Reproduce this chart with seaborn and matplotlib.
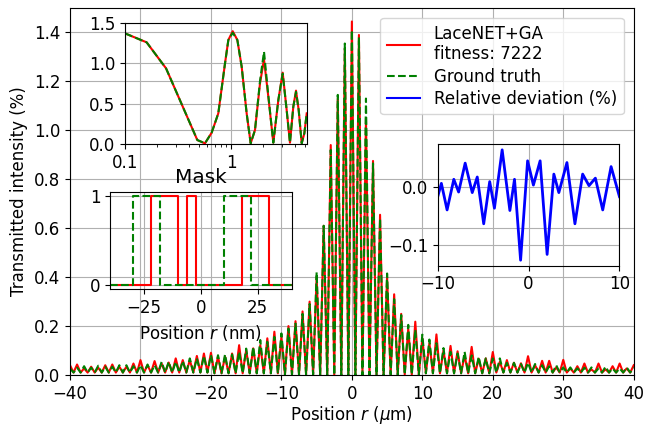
import numpy as np
import pandas as pd
import matplotlib
matplotlib.use("Agg")
import matplotlib.pyplot as plt
import seaborn as sns
from matplotlib.lines import Line2D

# ---------------- data ----------------
# main curve: peaks at integer r, troughs at half-integers (micrometres)
peak_r = np.arange(-40, 41, 1.0)
red_peaks = [0.040, 0.043, 0.027, 0.034, 0.030, 0.040, 0.043, 0.034, 0.034, 0.047,
             0.061, 0.040, 0.057, 0.047, 0.051, 0.068, 0.061, 0.061, 0.078, 0.088,
             0.091, 0.075, 0.075, 0.088, 0.122, 0.102, 0.109, 0.122, 0.150, 0.177,
             0.156, 0.200, 0.220, 0.260, 0.300, 0.400, 0.610, 0.940, 1.130, 1.335,
             1.445,
             1.390, 1.050, 0.875, 0.655, 0.400, 0.330, 0.250, 0.190, 0.218, 0.150,
             0.130, 0.166, 0.100, 0.119, 0.097, 0.080, 0.115, 0.067, 0.068, 0.094,
             0.054, 0.061, 0.050, 0.048, 0.077, 0.040, 0.058, 0.058, 0.031, 0.062,
             0.027, 0.036, 0.047, 0.023, 0.047, 0.023, 0.036, 0.047, 0.027, 0.040]
green_peaks = [0.027, 0.030, 0.036, 0.030, 0.038, 0.034, 0.034, 0.040, 0.040, 0.036,
               0.040, 0.043, 0.040, 0.054, 0.054, 0.054, 0.057, 0.068, 0.068, 0.078,
               0.081, 0.081, 0.084, 0.084, 0.095, 0.108, 0.115, 0.143, 0.136, 0.156,
               0.170, 0.190, 0.210, 0.250, 0.290, 0.420, 0.610, 0.920, 1.145, 1.355,
               1.410,
               1.380, 1.130, 0.865, 0.640, 0.415, 0.310, 0.245, 0.205, 0.185, 0.165,
               0.145, 0.130, 0.110, 0.095, 0.088, 0.095, 0.080, 0.074, 0.068, 0.068,
               0.068, 0.050, 0.050, 0.045, 0.050, 0.045, 0.040, 0.036, 0.040, 0.031,
               0.031, 0.027, 0.030, 0.031, 0.027, 0.034, 0.027, 0.027, 0.031, 0.030]
trough_r = np.arange(-39.5, 40.0, 1.0)
red_troughs = [0.010] * 20 + [0.007] * 10 + [0.002] * 5 + [0.0] * 10 + [0.002] * 5 + [0.007] * 10 + [0.010] * 20
green_troughs = [0.010] * 20 + [0.007] * 10 + [0.002] * 5 + [0.0] * 10 + [0.002] * 5 + [0.007] * 10 + [0.010] * 20

# log inset (positive side, finer reading)
inset_r = [0.10, 0.16, 0.244, 0.481, 0.568, 0.657, 0.759, 0.878, 0.944, 1.038, 1.148,
           1.261, 1.405, 1.533, 1.684, 1.878, 2.048, 2.249, 2.507, 2.796, 3.073, 3.35,
           3.60, 3.87, 4.105, 4.35, 4.645, 4.92, 5.18]
inset_red = [1.368, 1.257, 0.935, 0.049, 0.008, 0.14, 0.379, 0.997, 1.286, 1.395, 1.286,
             0.956, 0.379, 0.008, 0.173, 0.75, 1.045, 0.585, 0.016, 0.544, 0.882, 0.42,
             0.016, 0.461, 0.660, 0.42, 0.008, 0.132, 0.379]
inset_green = [1.368, 1.257, 0.935, 0.049, 0.008, 0.14, 0.379, 0.997, 1.286, 1.375, 1.286,
               0.956, 0.379, 0.008, 0.173, 0.78, 1.141, 0.60, 0.016, 0.544, 0.870, 0.42,
               0.016, 0.461, 0.645, 0.42, 0.008, 0.132, 0.379]

# mask (nm)
mask_red_x = [-40, -22, -10, -6, -2, 18, 30, 40]
mask_red_y = [0, 1, 0, 1, 0, 1, 0, 0]
mask_green_x = [-40, -30, -18, 10, 22, 40]
mask_green_y = [0, 1, 0, 1, 0, 0]

# relative deviation (%)
dev_r = [-10.0, -9.6, -8.97, -8.23, -7.7, -6.98, -6.2, -5.65, -4.94, -4.28, -3.76,
         -2.91, -2.06, -1.55, -0.88, -0.11, 0.53, 1.27, 2.04, 2.78, 3.33, 4.22, 5.1,
         5.95, 6.65, 7.35, 8.16, 9.08, 10.0]
dev_v = [-0.017, 0.006, -0.040, 0.013, -0.009, 0.041, -0.010, 0.017, -0.064, 0.009,
         -0.037, 0.064, -0.041, 0.013, -0.127, 0.045, 0.003, 0.045, -0.117, 0.022,
         -0.010, 0.042, -0.064, 0.022, 0.002, 0.015, -0.040, 0.035, -0.017]

legend_labels = ["LaceNET+GA\nfitness: 7222", "Ground truth", "Relative deviation (%)"]

# ---------------- build tables ----------------
main_df = pd.DataFrame({
    "r": np.concatenate([peak_r, trough_r]),
    "red": np.concatenate([red_peaks, red_troughs]),
    "green": np.concatenate([green_peaks, green_troughs]),
}).sort_values("r")

plt.rcParams["font.size"] = 12
plt.rcParams["font.family"] = ["DejaVu Sans"]
plt.rcParams["lines.solid_joinstyle"] = "round"
plt.rcParams["lines.dash_joinstyle"] = "round"

fig = plt.figure(figsize=(6.46, 4.25), dpi=100)
ax = fig.add_axes([0.1084, 0.1176, 0.8726, 0.8635])

sns.lineplot(x=main_df["r"], y=main_df["red"], ax=ax, color="red", lw=1.5, sort=False)
sns.lineplot(x=main_df["r"], y=main_df["green"], ax=ax, color="green", lw=1.5,
             linestyle="--", sort=False)
ax.set_xlim(-40, 40)
ax.set_ylim(0, 1.5)
ax.set_yticks(np.arange(0, 1.41, 0.2))
ax.set_xlabel("Position $r$ ($\\mu$m)", labelpad=1)
ax.set_ylabel("Transmitted intensity (%)")
ax.grid(True, color="#b0b0b0", lw=0.8)

handles = [Line2D([], [], color="red", lw=1.5),
           Line2D([], [], color="green", lw=1.5, linestyle="--"),
           Line2D([], [], color="blue", lw=1.5)]
ax.legend(handles, legend_labels, loc="upper right", labelspacing=0.25,
          borderaxespad=0.6)

# ---- log inset ----
ax1 = fig.add_axes([0.1935, 0.6612, 0.2813, 0.2854], facecolor="none")
sns.lineplot(x=inset_r, y=inset_red, ax=ax1, color="red", lw=1.5, sort=False)
sns.lineplot(x=inset_r, y=inset_green, ax=ax1, color="green", lw=1.5, linestyle="--", sort=False)
ax1.set_xscale("log")
ax1.set_xlim(0.1, 5.18)
ax1.set_ylim(0, 1.5)
ax1.set_xticks([0.1, 1])
ax1.set_xticklabels(["0.1", "1"])
ax1.set_yticks([0, 0.5, 1.0, 1.5])
ax1.set_yticklabels(["0.0", "0.5", "1.0", "1.5"])
ax1.grid(True, color="#b0b0b0", lw=0.8)
ax1.set_xlabel("")
ax1.set_ylabel("")

# ---- mask inset ----
ax2 = fig.add_axes([0.1703, 0.3193, 0.2813, 0.2296], facecolor="none")
sns.lineplot(x=mask_red_x, y=mask_red_y, ax=ax2, color="red", lw=1.5,
             drawstyle="steps-post", sort=False)
sns.lineplot(x=mask_green_x, y=mask_green_y, ax=ax2, color="green", lw=1.5,
             linestyle="--", drawstyle="steps-post", sort=False)
ax2.set_xlim(-40, 40)
ax2.set_ylim(-0.05, 1.05)
ax2.set_xticks([-25, 0, 25])
ax2.set_yticks([0, 1])
ax2.set_yticklabels(["0", "1"])
ax2.set_title("Mask")
ax2.set_xlabel("Position $r$ (nm)")
ax2.set_ylabel("")
ax2.grid(True, color="#b0b0b0", lw=0.8)

# ---- deviation inset ----
ax3 = fig.add_axes([0.6776, 0.3748, 0.2813, 0.2856], facecolor="none")
sns.lineplot(x=dev_r, y=dev_v, ax=ax3, color="blue", lw=2, sort=False)
ax3.set_xlim(-10, 10)
ax3.set_xticks([-10, 0, 10])
ax3.set_yticks([0.0, -0.1])
ax3.set_yticklabels(["0.0", "\u22120.1"])
ax3.set_xlabel("")
ax3.set_ylabel("")
ax3.grid(True, color="#b0b0b0", lw=0.8)

fig.savefig("out.png", dpi=100)
